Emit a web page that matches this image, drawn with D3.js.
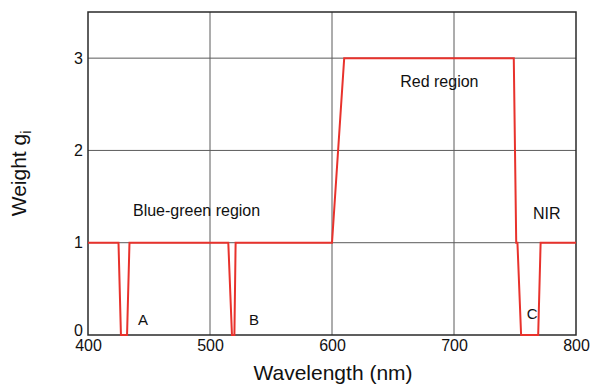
<!DOCTYPE html>
<html>
<head>
    <meta charset="utf-8">
    <script src="https://d3js.org/d3.v7.min.js"></script>
    <style>
        body { margin: 0; background: #fff; }
        text { font-family: "Liberation Sans", Arial, sans-serif; fill: #111; }
    </style>
</head>
<body>
    <svg id="chart" width="591" height="386"></svg>

    <script>
        // weight curve (wavelength nm, weight)
        const wavelengths = [400, 425, 427, 432, 434, 515, 518, 520, 521, 600, 610, 749, 751, 752, 755, 769, 771, 800];
        const weights     = [1,   1,   0,   0,   1,   1,   0,   0,   1,   1,   3,   3,   1,   1,   0,   0,   1,   1];

        const xTicks = [400, 500, 600, 700, 800];
        const yTicks = [0, 1, 2, 3];

        // region labels
        const labelText = ["Blue-green region", "Red region", "NIR", "A", "B", "C"];
        const labelX    = [489, 688, 776, 445, 536, 764];
        const labelY    = [1.34, 2.73, 1.3, 0.15, 0.15, 0.22];

        const svg = d3.select("#chart");
        const margin = {left: 88, right: 15, top: 12, bottom: 51};
        const width = +svg.attr("width"), height = +svg.attr("height");

        const x = d3.scaleLinear().domain([400, 800]).range([margin.left, width - margin.right]);
        const y = d3.scaleLinear().domain([0, 3.5]).range([height - margin.bottom, margin.top]);

        // grid lines
        svg.append("g")
            .selectAll("line")
            .data(xTicks.slice(1, -1))
            .join("line")
            .attr("x1", d => x(d)).attr("x2", d => x(d))
            .attr("y1", y(0)).attr("y2", y(3.5))
            .attr("stroke", "#5a5a5a").attr("stroke-width", 1);

        svg.append("g")
            .selectAll("line")
            .data(yTicks.slice(1))
            .join("line")
            .attr("x1", x(400)).attr("x2", x(800))
            .attr("y1", d => y(d)).attr("y2", d => y(d))
            .attr("stroke", "#5a5a5a").attr("stroke-width", 1);

        // frame
        svg.append("rect")
            .attr("x", x(400)).attr("y", y(3.5))
            .attr("width", x(800) - x(400)).attr("height", y(0) - y(3.5))
            .attr("fill", "none").attr("stroke", "#2a2a2a").attr("stroke-width", 1.5);

        // axes tick labels
        const xAxis = svg.append("g")
            .attr("transform", `translate(0,${y(0)})`)
            .call(d3.axisBottom(x).tickValues(xTicks).tickSize(0).tickPadding(5));
        xAxis.select(".domain").remove();
        xAxis.selectAll("text").attr("font-size", 16).attr("fill", "#111")
            .style("font-family", "Liberation Sans, Arial, sans-serif");

        const yAxis = svg.append("g")
            .attr("transform", `translate(${x(400)},0)`)
            .call(d3.axisLeft(y).tickValues(yTicks).tickFormat(d3.format("d")).tickSize(0).tickPadding(5));
        yAxis.select(".domain").remove();
        yAxis.selectAll("text").attr("font-size", 16).attr("fill", "#111")
            .attr("dy", d => d === 0 ? "0.05em" : "0.32em")
            .style("font-family", "Liberation Sans, Arial, sans-serif");

        // the weight line
        const line = d3.line().x((d, i) => x(wavelengths[i])).y(d => y(d));
        svg.append("path")
            .datum(weights)
            .attr("d", line)
            .attr("fill", "none")
            .attr("stroke", "#e8322c")
            .attr("stroke-width", 2)
            .attr("stroke-linejoin", "miter");

        // labels
        svg.append("g")
            .selectAll("text")
            .data(labelText)
            .join("text")
            .attr("x", (d, i) => x(labelX[i]))
            .attr("y", (d, i) => y(labelY[i]))
            .attr("text-anchor", "middle")
            .attr("dominant-baseline", "middle")
            .attr("font-size", (d, i) => i < 3 ? 16 : 15)
            .text(d => d);

        // axis titles
        svg.append("text")
            .attr("x", (x(400) + x(800)) / 2 + 1)
            .attr("y", 380)
            .attr("text-anchor", "middle")
            .attr("font-size", 21)
            .text("Wavelength (nm)");

        const yTitle = svg.append("text")
            .attr("transform", `translate(26,${(y(0) + y(3.5)) / 2}) rotate(-90)`)
            .attr("text-anchor", "middle")
            .attr("font-size", 21);
        yTitle.append("tspan").text("Weight g");
        yTitle.append("tspan").attr("font-size", 14).attr("dy", 5).text("i");
    </script>
</body>
</html>
